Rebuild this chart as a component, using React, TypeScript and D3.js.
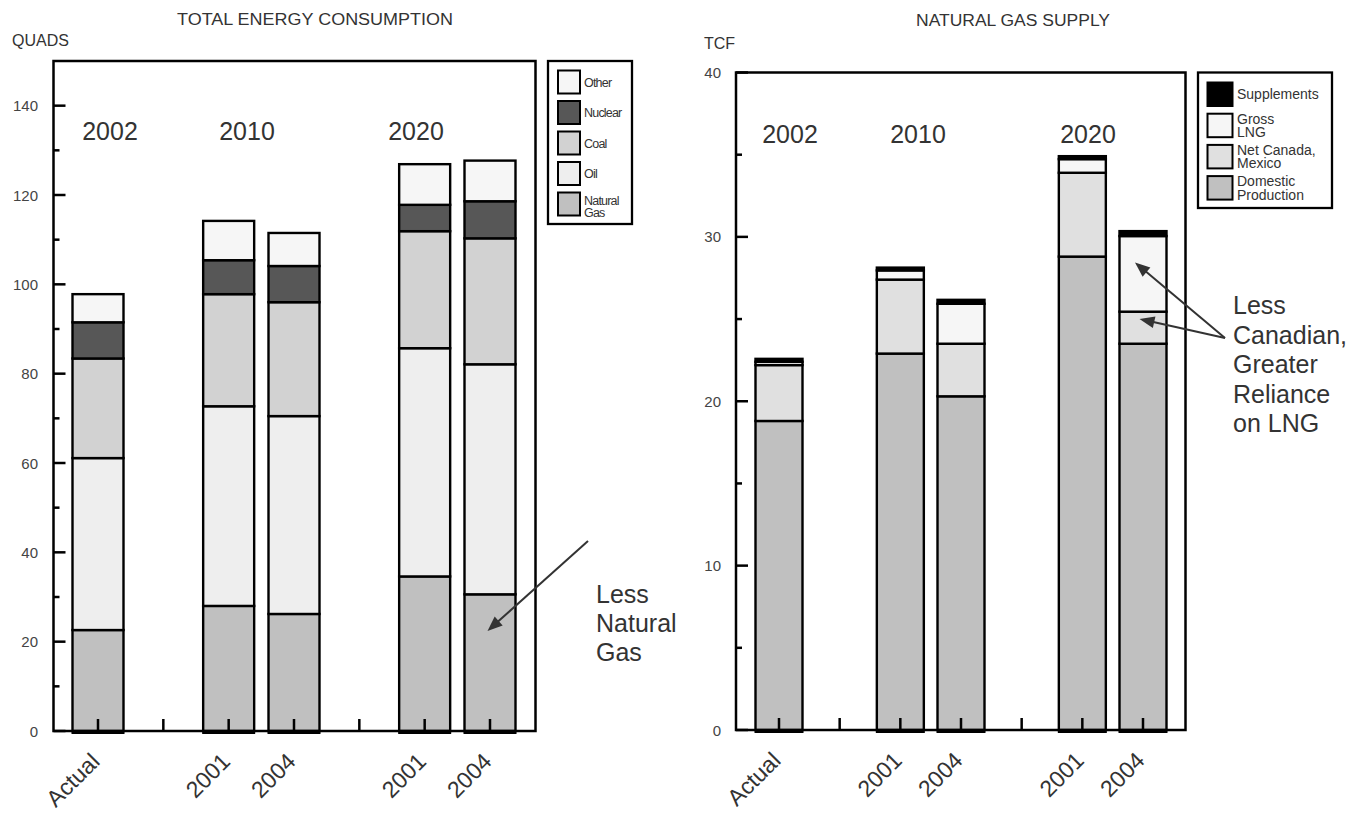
import React from "react";
import * as d3 from "d3";

// ---------- shared categories ----------
const slots = ["Actual", "gapA", "2010-2001", "2010-2004", "gapB", "2020-2001", "2020-2004"];
const barSlots = ["Actual", "2010-2001", "2010-2004", "2020-2001", "2020-2004"];
const barLabels = ["Actual", "2001", "2004", "2001", "2004"];
const groupLabels = ["2002", "2010", "2020"];

// ---------- Total energy consumption (quads) ----------
const energySeries = ["Natural Gas", "Oil", "Coal", "Nuclear", "Other"];
const naturalGas = [22.6, 28.0, 26.2, 34.6, 30.6];
const oil = [38.5, 44.7, 44.3, 51.1, 51.5];
const coal = [22.3, 25.1, 25.5, 26.2, 28.2];
const nuclear = [8.1, 7.6, 8.1, 5.9, 8.3];
const other = [6.3, 8.8, 7.4, 9.1, 9.1];
const energyTicks = [0, 20, 40, 60, 80, 100, 120, 140];
const energyMinorTicks = [10, 30, 50, 70, 90, 110, 130];
const energyLegend = ["Other", "Nuclear", "Coal", "Oil", "Natural\nGas"];

// ---------- Natural gas supply (tcf) ----------
const gasSeries = ["Domestic Production", "Net Canada, Mexico", "Gross LNG", "Supplements"];
const domestic = [18.8, 22.9, 20.3, 28.8, 23.5];
const netCanadaMexico = [3.4, 4.5, 3.2, 5.1, 1.95];
const grossLNG = [0.2, 0.56, 2.43, 0.83, 4.6];
const supplements = [0.18, 0.17, 0.24, 0.18, 0.3];
const gasTicks = [0, 10, 20, 30, 40];
const gasMinorTicks = [5, 15, 25, 35];
const gasLegend = ["Supplements", "Gross\nLNG", "Net Canada,\nMexico", "Domestic\nProduction"];

const FONT = "'Liberation Sans', Arial, Helvetica, sans-serif";
const TXT = "#333";

const energyColors: Record<string, string> = {
  "Natural Gas": "#c0c0c0",
  Oil: "#eeeeee",
  Coal: "#d2d2d2",
  Nuclear: "#575757",
  Other: "#f6f6f6",
};
const gasColors: Record<string, string> = {
  "Domestic Production": "#c0c0c0",
  "Net Canada, Mexico": "#e0e0e0",
  "Gross LNG": "#f6f6f6",
  Supplements: "#000000",
};

function buildRows(series: string[], values: number[][]) {
  return barSlots.map((slot, i) => {
    const row: any = { slot };
    series.forEach((s, j) => (row[s] = values[j][i]));
    return row;
  });
}

type ChartCfg = {
  x0: number; x1: number; y0: number; y1: number;
  xr: [number, number]; barW: number;
  ymax: number; ticks: number[]; minor: number[];
  series: string[]; values: number[][]; colors: Record<string, string>;
  title: string; titleX: number; titleY: number; titleLen: number;
  unit: string; unitX: number; unitY: number; labelX: number;
  groupX: number[]; groupY: number;
};

function Arrow({ from, to, len = 15, half = 6 }: { from: [number, number]; to: [number, number]; len?: number; half?: number }) {
  const dx = to[0] - from[0];
  const dy = to[1] - from[1];
  const d = Math.hypot(dx, dy);
  const ux = dx / d, uy = dy / d;
  const bx = to[0] - ux * len, by = to[1] - uy * len;
  const px = -uy, py = ux;
  const pts = [
    [to[0], to[1]],
    [bx + px * half, by + py * half],
    [bx - px * half, by - py * half],
  ];
  return (
    <g>
      <line x1={from[0]} y1={from[1]} x2={bx + ux * 2} y2={by + uy * 2} stroke="#333" strokeWidth={2} />
      <polygon points={pts.map((p) => p.join(",")).join(" ")} fill="#333" />
    </g>
  );
}

function StackChart({ c }: { c: ChartCfg }) {
  const x = d3.scalePoint<string>().domain(slots).range(c.xr);
  const y = d3.scaleLinear().domain([0, c.ymax]).range([c.y1, c.y0]);
  const rows = buildRows(c.series, c.values);
  const stacked = d3.stack<any>().keys(c.series)(rows);
  return (
    <g>
      <text x={c.titleX} y={c.titleY} textAnchor="middle" fontSize={16} fill={TXT} fontFamily={FONT}
        textLength={c.titleLen} lengthAdjust="spacingAndGlyphs">{c.title}</text>
      <text x={c.unitX} y={c.unitY} fontSize={16} fill={TXT} fontFamily={FONT}>{c.unit}</text>
      {/* bars */}
      {stacked.map((layer) => (
        <g key={layer.key}>
          {layer.map((d: any, i: number) => {
            const cx = x(barSlots[i]) as number;
            return (
              <rect key={i} x={cx - c.barW / 2} y={y(d[1])} width={c.barW} height={y(d[0]) - y(d[1])}
                fill={c.colors[layer.key]} stroke="#000" strokeWidth={2.4} />
            );
          })}
        </g>
      ))}
      {/* frame */}
      <rect x={c.x0} y={c.y0} width={c.x1 - c.x0} height={c.y1 - c.y0} fill="none" stroke="#000" strokeWidth={2.5} />
      {/* thick bar bottoms */}
      {barSlots.map((s) => {
        const cx = x(s) as number;
        return <line key={s} x1={cx - c.barW / 2 - 1} x2={cx + c.barW / 2 + 1} y1={c.y1 + 1} y2={c.y1 + 1} stroke="#000" strokeWidth={4} />;
      })}
      {/* y ticks */}
      {c.ticks.map((t) => (
        <g key={t}>
          <line x1={c.x0} x2={c.x0 + 12} y1={y(t)} y2={y(t)} stroke="#000" strokeWidth={2.5} />
          <text x={c.labelX} y={y(t) + 5.5} textAnchor="end" fontSize={15} fill="#444" fontFamily={FONT}>{t}</text>
        </g>
      ))}
      {c.minor.map((t) => (
        <line key={t} x1={c.x0} x2={c.x0 + 6} y1={y(t)} y2={y(t)} stroke="#000" strokeWidth={2.5} />
      ))}
      {/* x ticks */}
      {slots.map((s) => (
        <line key={s} x1={x(s) as number} x2={x(s) as number} y1={c.y1} y2={c.y1 - 12} stroke="#000" strokeWidth={2.5} />
      ))}
      {/* x labels */}
      {barSlots.map((s, i) => {
        const lx = (x(s) as number) + 3;
        const ly = c.y1 + 32;
        return (
          <text key={s} x={lx} y={ly} textAnchor="end" fontSize={23} fill={TXT} fontFamily={FONT}
            transform={`rotate(-45 ${lx} ${ly})`}>{barLabels[i]}</text>
        );
      })}
      {/* group labels */}
      {groupLabels.map((g, i) => (
        <text key={g} x={c.groupX[i]} y={c.groupY} textAnchor="middle" fontSize={25} fill={TXT} fontFamily={FONT}>{g}</text>
      ))}
    </g>
  );
}

function Legend({ items, colors, keys, box, sw, tx, fontSize, letterSpacing, lineH, pitch, top0, dy }: any) {
  return (
    <g fontFamily={FONT}>
      <rect x={box[0]} y={box[1]} width={box[2] - box[0]} height={box[3] - box[1]} fill="#fff" stroke="#000" strokeWidth={2.3} />
      {items.map((label: string, i: number) => {
        const top = top0 + pitch * i;
        const lines = label.split("\n");
        const col = colors[keys[i]];
        return (
          <g key={label}>
            <rect x={sw[0]} y={top} width={sw[1]} height={sw[2]} fill={col} stroke="#000" strokeWidth={2} />
            {lines.map((ln, k) => (
              <text key={k} x={tx} fontSize={fontSize} letterSpacing={letterSpacing} fill={TXT}
                y={lines.length === 1 ? top + sw[2] / 2 + fontSize * 0.36 : top + sw[2] / 2 - lineH / 2 + fontSize * 0.36 + k * lineH + dy}>{ln}</text>
            ))}
          </g>
        );
      })}
    </g>
  );
}

export default function App() {
  const energy: ChartCfg = {
    x0: 53.5, x1: 535.5, y0: 61, y1: 731, xr: [98, 490], barW: 51,
    ymax: 150, ticks: energyTicks, minor: energyMinorTicks,
    series: energySeries, values: [naturalGas, oil, coal, nuclear, other], colors: energyColors,
    title: "TOTAL ENERGY CONSUMPTION", titleX: 315, titleY: 25, titleLen: 276,
    unit: "QUADS", unitX: 12, unitY: 46, labelX: 38,
    groupX: [110, 247, 416], groupY: 140,
  };
  const gas: ChartCfg = {
    x0: 736, x1: 1185.5, y0: 72.5, y1: 730, xr: [779, 1143], barW: 47,
    ymax: 40, ticks: gasTicks, minor: gasMinorTicks,
    series: gasSeries, values: [domestic, netCanadaMexico, grossLNG, supplements], colors: gasColors,
    title: "NATURAL GAS SUPPLY", titleX: 1013, titleY: 26, titleLen: 194,
    unit: "TCF", unitX: 704, unitY: 49, labelX: 721,
    groupX: [790, 918, 1088], groupY: 143,
  };
  return (
    <div style={{ position: "absolute", left: 0, top: 0, width: 1364, height: 817, background: "#fff" }}>
      <svg width={1364} height={817} viewBox="0 0 1364 817" style={{ display: "block" }}>
        <rect width={1364} height={817} fill="#fff" />
        <StackChart c={energy} />
        <StackChart c={gas} />
        <Legend items={energyLegend} keys={["Other", "Nuclear", "Coal", "Oil", "Natural Gas"]} colors={energyColors}
          box={[548, 61, 632, 224]} sw={[558, 22, 23]} tx={584} fontSize={12.5} letterSpacing={-0.8} lineH={12}
          pitch={30.5} top0={70.5} dy={2.5} />
        <Legend items={gasLegend} keys={["Supplements", "Gross LNG", "Net Canada, Mexico", "Domestic Production"]} colors={gasColors}
          box={[1198, 72.5, 1332, 208]} sw={[1207.5, 25, 23.5]} tx={1237} fontSize={14} letterSpacing={0} lineH={13.5}
          pitch={31.2} top0={82.5} dy={0} />
        {/* annotations */}
        <g fontFamily={FONT} fontSize={25} fill={TXT}>
          {["Less", "Natural", "Gas"].map((t, i) => (
            <text key={t} x={596} y={603 + i * 29}>{t}</text>
          ))}
          {["Less", "Canadian,", "Greater", "Reliance", "on LNG"].map((t, i) => (
            <text key={t} x={1233} y={314 + i * 29.5}>{t}</text>
          ))}
        </g>
        <Arrow from={[588, 541]} to={[487.5, 631]} />
        <Arrow from={[1225, 338]} to={[1135, 262.5]} />
        <Arrow from={[1225, 338]} to={[1139.5, 319]} />
      </svg>
    </div>
  );
}
